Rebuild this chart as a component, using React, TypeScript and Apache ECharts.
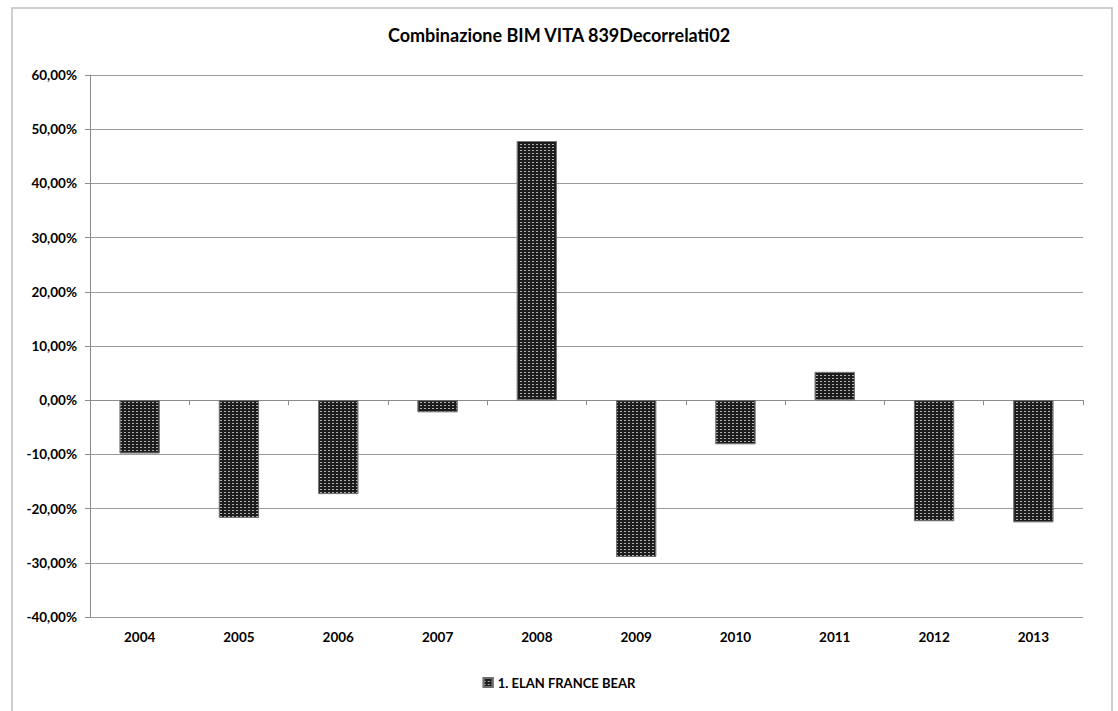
import React, { useEffect, useRef } from "react";
import * as echarts from "echarts";

const categories = ["2004", "2005", "2006", "2007", "2008", "2009", "2010", "2011", "2012", "2013"];
const values = [-9.8, -21.7, -17.3, -2.2, 47.8, -28.9, -8.1, 5.2, -22.3, -22.5];
const seriesName = "1. ELAN FRANCE BEAR";
const titleText = "Combinazione BIM VITA 839Decorrelati02";

const FONT = "Lato, 'Open Sans', sans-serif";

export default function App() {
  const ref = useRef<HTMLDivElement>(null);
  useEffect(() => {
    const chart = echarts.init(ref.current!, null, { renderer: "svg" });
    const decal = {
      symbol: "rect",
      symbolSize: 1,
      dashArrayX: [2, 2],
      dashArrayY: [1, 2],
      color: "#b0b0b0",
      rotation: 0,
    };
    chart.setOption({
      animation: false,
      backgroundColor: "#ffffff",
      textStyle: { fontFamily: FONT },
      title: {
        text: titleText,
        left: "center",
        top: 21,
        textStyle: { fontFamily: FONT, fontWeight: "bold", fontSize: 18, color: "#000" },
      },
      graphic: [
        {
          type: "rect",
          shape: { x: 12, y: 8, width: 1100, height: 720 },
          style: { fill: "none", stroke: "#bfbfbf", lineWidth: 1.5 },
          silent: true,
        },
      ],
      legend: {
        bottom: 17,
        left: "center",
        itemWidth: 9,
        itemHeight: 9,
        icon: "rect",
        data: [seriesName],
        textStyle: { fontFamily: FONT, fontWeight: "bold", fontSize: 13, color: "#000" },
        itemGap: 4,
      },
      grid: { left: 90, right: 35, top: 75, bottom: 94 },
      xAxis: [
        {
          type: "category",
          data: categories,
          position: "bottom",
          axisLine: { show: false, onZero: false },
          axisTick: { show: false },
          axisLabel: { fontFamily: FONT, fontWeight: "bold", fontSize: 13.5, color: "#000", margin: 13 },
        },
        {
          type: "category",
          data: categories,
          position: "bottom",
          axisLine: { show: true, onZero: true, lineStyle: { color: "#8c8c8c", width: 1 } },
          axisTick: { show: true, length: 5, lineStyle: { color: "#8c8c8c" } },
          axisLabel: { show: false },
        },
      ],
      yAxis: {
        type: "value",
        min: -40,
        max: 60,
        interval: 10,
        axisLine: { show: true, lineStyle: { color: "#8c8c8c" } },
        axisTick: { show: true, length: 5, lineStyle: { color: "#8c8c8c" } },
        splitLine: { lineStyle: { color: "#9a9a9a" } },
        axisLabel: {
          fontFamily: FONT,
          fontWeight: "bold",
          fontSize: 13.5,
          color: "#000",
          margin: 13,
          formatter: (v: number) => v.toFixed(2).replace(".", ",") + "%",
        },
      },
      series: [
        {
          name: seriesName,
          type: "bar",
          xAxisIndex: 0,
          data: values,
          barWidth: 40,
          itemStyle: { color: "#1c1c1c", borderColor: "#6e6e6e", borderWidth: 0.8, decal },
        },
      ],
    });
    return () => chart.dispose();
  }, []);
  return (
    <div
      ref={ref}
      style={{ position: "absolute", left: 0, top: 0, width: 1118, height: 711 }}
    />
  );
}
